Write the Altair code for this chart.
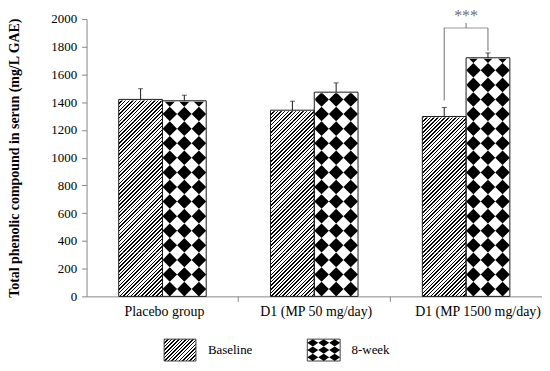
import altair as alt
import pandas as pd

# ---------------- data ----------------
groups = ["Placebo group", "D1 (MP 50 mg/day)", "D1 (MP 1500 mg/day)"]
series = ["Baseline", "8-week"]
baseline = [1420, 1342, 1297]
week8 = [1410, 1472, 1720]
baseline_err = [77, 65, 65]
week8_err = [40, 67, 35]

sig_group = groups[2]
sig_label = "***"
bracket_top = 1935
bracket_left_bottom = 1412
bracket_right_bottom = 1771
bracket_tick_top = 1971

y_ticks = [0, 200, 400, 600, 800, 1000, 1200, 1400, 1600, 1800, 2000]
y_title = "Total phenolic compound in serun (mg/L GAE)"

rows = []
for g, b, be, w, we in zip(groups, baseline, baseline_err, week8, week8_err):
    rows.append({"group": g, "series": series[0], "value": b, "upper": b + be})
    rows.append({"group": g, "series": series[1], "value": w, "upper": w + we})
df = pd.DataFrame(rows)

bdf = pd.DataFrame([{
    "group": sig_group, "left": series[0], "right": series[1],
    "top": bracket_top, "lb": bracket_left_bottom, "rb": bracket_right_bottom,
    "tt": bracket_tick_top, "label": sig_label,
}])
ldf = pd.DataFrame({"series": series})

# ---------------- styling ----------------
W, H = 458, 279
BAR_W = 44.0
PX2DATA = 2000.0 / H
DIA = BAR_W / 3.0
DIA_DATA = DIA * PX2DATA
SEG_DATA = BAR_W * PX2DATA          # square hatch tiles (bar width x bar width)
FONT = "Liberation Serif"
AX = "#868686"
GRAY = "#6f6f6f"
EDGE = "#1a1a1a"
HATCH_FRAC = 0.4


def stripes(w, h, n):
    s = (w + h) / (w * w + h * h)
    stops = []
    for i in range(n):
        a = round(i / n, 6)
        b = round((i + HATCH_FRAC) / n, 6)
        c = round((i + 1) / n, 6)
        stops += [
            {"offset": a, "color": "#000000"},
            {"offset": b, "color": "#000000"},
            {"offset": b, "color": "#ffffff"},
            {"offset": c, "color": "#ffffff"},
        ]
    return {"gradient": "linear", "x1": 0, "y1": 0, "x2": s * w, "y2": s * h, "stops": stops}


x_axis = alt.Axis(
    title=None, labelAngle=0, labelFont=FONT, labelFontSize=14, labelColor="black",
    bandPosition=1, tickSize=5, tickColor=AX, domainColor=AX, labelPadding=3,
    labelOffset={"condition": {"test": f"datum.value === '{groups[2]}'", "value": 12}, "value": 2},
)
x_enc = alt.X("group:N", sort=groups, scale=alt.Scale(paddingInner=0, paddingOuter=0), axis=x_axis)
xoff_scale = alt.Scale(domain=series, paddingInner=0, paddingOuter=0.735)

y_axis = alt.Axis(
    values=y_ticks, format="d", grid=False, title=y_title, titleFont=FONT, titleFontSize=14,
    titleFontWeight="bold", titleColor="black", labelFont=FONT, labelFontSize=13,
    labelColor="black", tickSize=5, labelPadding=5, titlePadding=29,
    domainColor=AX, tickColor=AX,
)


def Y(field):
    return alt.Y(f"{field}:Q", scale=alt.Scale(domain=[0, 2000], nice=False), axis=y_axis)


def XO(field):
    return alt.XOffset(f"{field}:N", scale=xoff_scale)


base = alt.Chart(df)
is8 = f"datum.series === '{series[1]}'"
is0 = f"datum.series === '{series[0]}'"

layers = []
# 8-week: white bar + diamond checker pattern
layers.append(base.transform_filter(is8).mark_bar(fill="white", strokeWidth=0)
              .encode(x=x_enc, xOffset=XO("series"), y=Y("value")))
for dx in (-DIA, 0.0, DIA):
    layers.append(
        base.transform_filter(is8)
        .transform_calculate(ys=f"sequence({DIA_DATA / 2}, datum.value + {DIA_DATA / 2}, {DIA_DATA})")
        .transform_flatten(["ys"])
        .mark_point(shape="diamond", filled=True, fill="black", strokeWidth=0,
                    size=DIA * DIA, opacity=1, xOffset=BAR_W / 2 + dx)
        .encode(x=x_enc, y=Y("ys"))
    )
# Baseline: diagonal hatch, drawn as square tiles stacked up the bar
layers.append(
    base.transform_filter(is0)
    .transform_calculate(seg=f"sequence(0, datum.value, {SEG_DATA})")
    .transform_flatten(["seg"])
    .transform_calculate(seg2=f"datum.seg + {SEG_DATA}")
    .mark_bar(fill=stripes(BAR_W, BAR_W, 24), strokeWidth=0)
    .encode(x=x_enc, xOffset=XO("series"), y=Y("seg"), y2="seg2:Q")
)
# white masks above each bar top (trim the pattern overflow)
layers.append(base.transform_filter(is8)
              .transform_calculate(mtop=f"datum.value + {DIA_DATA + 10}")
              .mark_bar(fill="white", stroke="white", strokeWidth=2)
              .encode(x=x_enc, xOffset=XO("series"), y=Y("value"), y2="mtop:Q"))
layers.append(base.transform_filter(is0)
              .transform_calculate(mtop=f"datum.value + {SEG_DATA + 10}")
              .mark_bar(fill="white", stroke="white", strokeWidth=2)
              .encode(x=x_enc, xOffset=XO("series"), y=Y("value"), y2="mtop:Q"))
# outlines
layers.append(base.mark_bar(fill="white", fillOpacity=0, stroke=EDGE, strokeWidth=1)
              .encode(x=x_enc, xOffset=XO("series"), y=Y("value")))
# error bars
layers.append(base.mark_rule(color=EDGE, strokeWidth=1)
              .encode(x=x_enc, xOffset=XO("series"), y=Y("value"), y2="upper:Q"))
layers.append(base.mark_tick(color=EDGE, thickness=1, size=5)
              .encode(x=x_enc, xOffset=XO("series"), y=Y("upper")))

# significance bracket
bb = alt.Chart(bdf)
layers.append(bb.mark_rule(color=GRAY, strokeWidth=1)
              .encode(x=x_enc, xOffset=XO("left"), y=Y("lb"), y2="top:Q"))
layers.append(bb.mark_rule(color=GRAY, strokeWidth=1)
              .encode(x=x_enc, xOffset=XO("right"), y=Y("rb"), y2="top:Q"))
layers.append(bb.mark_tick(color=GRAY, thickness=1, size=BAR_W)
              .encode(x=x_enc, y=Y("top")))
layers.append(bb.mark_rule(color=GRAY, strokeWidth=1)
              .encode(x=x_enc, y=Y("top"), y2="tt:Q"))
layers.append(bb.mark_text(font=FONT, fontSize=16, color=GRAY, baseline="alphabetic", dy=-2)
              .encode(x=x_enc, y=Y("tt"), text="label:N"))

main = alt.layer(*layers)

# ---------------- legend ----------------
lx = alt.X("series:N", scale=alt.Scale(type="point", domain=series, range=[94, 238.5], padding=0), axis=None)
LY0, LY1 = 322, 344
LYC = (LY0 + LY1) / 2
lrow = (LY1 - LY0) / 3.0
lb = alt.Chart(ldf)
leg = []
leg.append(lb.transform_filter(is0).mark_bar(size=32, fill=stripes(32, LY1 - LY0, 15), stroke="#404040", strokeWidth=1)
           .encode(x=lx, y=alt.value(LY0), y2=alt.value(LY1)))
leg.append(lb.transform_filter(is8).mark_bar(size=33, fill="white", stroke="#404040", strokeWidth=1)
           .encode(x=lx, y=alt.value(LY0), y2=alt.value(LY1)))
for r in (-1, 0, 1):
    for c in (-1, 0, 1):
        leg.append(lb.transform_filter(is8)
                   .mark_point(shape="M-1,0L0,-0.667L1,0L0,0.667Z", size=121, filled=True, fill="black",
                               strokeWidth=0, opacity=1, xOffset=11 * c)
                   .encode(x=lx, y=alt.value(LYC + r * lrow)))
leg.append(lb.mark_text(align="left", baseline="middle", dx=28, font=FONT, fontSize=13, color="black")
           .encode(x=lx, y=alt.value(LYC), text="series:N"))
legend = alt.layer(*leg)

chart = (
    alt.layer(main, legend)
    .resolve_scale(x="independent")
    .properties(width=W, height=H,
                padding={"left": 79, "top": 10, "right": 0, "bottom": 66},
                autosize=alt.AutoSizeParams(type="none"))
    .configure_view(stroke=None)
)

chart.save("out.html", embed_options={"renderer": "svg", "actions": False})
